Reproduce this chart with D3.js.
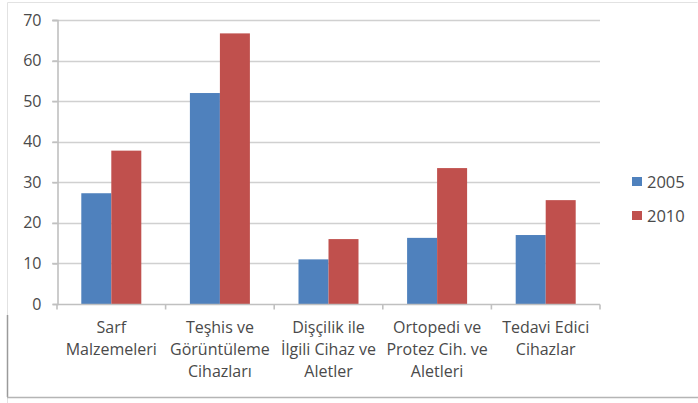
<!DOCTYPE html>
<html><head><meta charset="utf-8">
<script src="https://cdn.jsdelivr.net/npm/d3@7"></script>
<style>body{margin:0;background:#fff}svg{display:block}text{font-family:"Open Sans","Liberation Sans",sans-serif;fill:#4a4a4a}</style>
</head><body><svg id="c" width="698" height="403"></svg>
<script>
const categories = [["Sarf","Malzemeleri"],["Teşhis ve","Görüntüleme","Cihazları"],["Dişçilik ile","İlgili Cihaz ve","Aletler"],["Ortopedi ve","Protez Cih. ve","Aletleri"],["Tedavi Edici","Cihazlar"]];
const seriesNames = ["2005","2010"];
const values2005 = [27.3, 52, 11, 16.3, 17];
const values2010 = [37.8, 66.7, 16, 33.5, 25.6];
const yTicks = [0,10,20,30,40,50,60,70];
const colors = ["#4F81BD","#C0504D"];

(function(){
const svg = d3.select("#c");
svg.append("path").attr("d","M7.5,403V2.5H697.5").attr("fill","none").attr("stroke","#e2e2e2");
svg.append("line").attr("x1",7.5).attr("x2",7.5).attr("y1",315).attr("y2",397).attr("stroke","#9a9a9a").attr("stroke-width",1.5);
svg.append("line").attr("x1",7).attr("x2",698).attr("y1",397.5).attr("y2",397.5).attr("stroke","#b5b5b5").attr("stroke-width",1.5);
const pl=57, pr=600, pt=20, pb=304;
const x = d3.scaleBand().domain(d3.range(categories.length)).range([pl,pr]).paddingInner(0).paddingOuter(0);
const xs = d3.scaleBand().domain(seriesNames).range([0,x.bandwidth()]).paddingInner(0).paddingOuter(0.81);
const y = d3.scaleLinear().domain([0,70]).range([pb,pt]);

svg.append("g").selectAll("line").data(yTicks.slice(1)).join("line")
 .attr("x1",pl-5).attr("x2",pr).attr("y1",d=>Math.round(y(d))+0.5).attr("y2",d=>Math.round(y(d))+0.5)
 .attr("stroke","#d0d0d0").attr("stroke-width",1.6);
const ya = svg.append("g").attr("transform",`translate(${pl+0.5},0)`).call(d3.axisLeft(y).tickValues(yTicks).tickSize(5).tickPadding(11));
ya.select(".domain").attr("stroke","#c0c0c0").attr("stroke-width",1.6);
ya.selectAll(".tick line").attr("stroke","#c0c0c0").attr("stroke-width",1.6);
ya.selectAll("text").style("font-size","16px").attr("fill","#4a4a4a").style("font-family",null);

const data = [values2005, values2010];
data.forEach((vals,si)=>{
  svg.append("g").selectAll("rect").data(vals).join("rect")
   .attr("x",(d,i)=>x(i)+xs(seriesNames[si]))
   .attr("width",xs.bandwidth())
   .attr("y",d=>y(d)).attr("height",d=>y(0)-y(d))
   .attr("fill",colors[si]);
});

const xa = svg.append("g").attr("transform",`translate(0,${pb+0.5})`);
xa.append("line").attr("x1",pl).attr("x2",pr).attr("stroke","#c0c0c0").attr("stroke-width",1.6);
xa.selectAll("line.t").data(d3.range(categories.length+1)).join("line").attr("class","t")
 .attr("x1",i=>pl+i*x.bandwidth()).attr("x2",i=>pl+i*x.bandwidth()).attr("y1",0).attr("y2",5).attr("stroke","#c0c0c0").attr("stroke-width",1.6);
categories.forEach((lines,i)=>{
  const t = svg.append("text").attr("text-anchor","middle").style("font-size","16px")
   .attr("x",x(i)+x.bandwidth()/2).attr("y",333);
  lines.forEach((l,j)=>t.append("tspan").attr("x",x(i)+x.bandwidth()/2).attr("dy",j?22:0).text(l));
});

seriesNames.forEach((s,i)=>{
  const g = svg.append("g").attr("transform",`translate(632,${182+i*34})`);
  g.append("rect").attr("x",0).attr("y",-5).attr("width",10).attr("height",9).attr("fill",colors[i]);
  g.append("text").attr("x",15).attr("y",6).style("font-size","16.5px").text(s);
});
})();
</script></body></html>
